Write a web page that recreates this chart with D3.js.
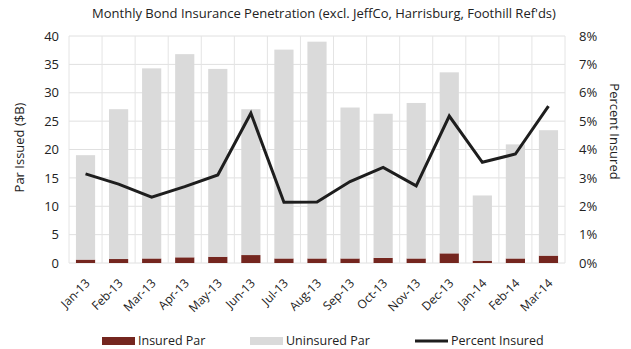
<!DOCTYPE html>
<html>
<head>
<meta charset="utf-8">
<script src="https://cdnjs.cloudflare.com/ajax/libs/d3/7.8.5/d3.min.js"></script>
<style>
  body { margin: 0; background: #fff; }
  text { font-family: "Open Sans", "Liberation Sans", sans-serif; fill: #222; }
</style>
</head>
<body>
<div id="chart"></div>
<script>
// data
const months = ['Jan-13', 'Feb-13', 'Mar-13', 'Apr-13', 'May-13', 'Jun-13', 'Jul-13', 'Aug-13',
                'Sep-13', 'Oct-13', 'Nov-13', 'Dec-13', 'Jan-14', 'Feb-14', 'Mar-14'];
const insuredPar = [0.6, 0.7, 0.8, 1.0, 1.1, 1.4, 0.8, 0.8, 0.8, 0.9, 0.8, 1.7, 0.4, 0.8, 1.3];
const totalPar = [19.0, 27.1, 34.3, 36.8, 34.2, 27.1, 37.6, 39.0, 27.4, 26.3, 28.2, 33.6, 11.9, 20.9, 23.4];
const uninsuredPar = totalPar.map((t, i) => +(t - insuredPar[i]).toFixed(2));
const pctInsured = [3.14, 2.78, 2.32, 2.69, 3.10, 5.28, 2.14, 2.15, 2.87, 3.37, 2.72, 5.18, 3.55, 3.84, 5.53];
const leftTicks = [0, 5, 10, 15, 20, 25, 30, 35, 40];
const rightTicks = [0, 1, 2, 3, 4, 5, 6, 7, 8];

const W = 631, H = 349;
const m = { left: 69, right: 66, top: 36, bottom: 86 };
const iw = W - m.left - m.right, ih = H - m.top - m.bottom;

const svg = d3.select('#chart').append('svg')
    .attr('width', W).attr('height', H);

const x = d3.scaleBand().domain(months).range([m.left, m.left + iw]).paddingInner(0.42).paddingOuter(0.21);
const y = d3.scaleLinear().domain([0, 40]).range([m.top + ih, m.top]);
const y2 = d3.scaleLinear().domain([0, 8]).range([m.top + ih, m.top]);

// grid
const grid = svg.append('g');
grid.selectAll('line.h').data(leftTicks).enter().append('line')
    .attr('x1', m.left).attr('x2', m.left + iw)
    .attr('y1', d => y(d)).attr('y2', d => y(d))
    .attr('stroke', '#e0e0e0').attr('stroke-width', 1);
const step = x.step();
grid.selectAll('line.v').data(d3.range(months.length + 1)).enter().append('line')
    .attr('x1', i => m.left + i * step).attr('x2', i => m.left + i * step)
    .attr('y1', m.top).attr('y2', m.top + ih)
    .attr('stroke', '#e4e4e4').attr('stroke-width', 1);

// stacked bars
const rows = months.map((mo, i) => ({ month: mo, insured: insuredPar[i], uninsured: uninsuredPar[i] }));
const stack = d3.stack().keys(['insured', 'uninsured'])(rows);
const colors = { insured: '#74261f', uninsured: '#dadada' };
svg.append('g').selectAll('g').data(stack).enter().append('g')
    .attr('fill', d => colors[d.key])
    .selectAll('rect').data(d => d).enter().append('rect')
    .attr('x', d => x(d.data.month))
    .attr('width', x.bandwidth())
    .attr('y', d => y(d[1]))
    .attr('height', d => y(d[0]) - y(d[1]));

// percent line
const line = d3.line()
    .x((d, i) => x(months[i]) + x.bandwidth() / 2)
    .y(d => y2(d));
svg.append('path').datum(pctInsured)
    .attr('d', line)
    .attr('fill', 'none')
    .attr('stroke', '#1e1e1e')
    .attr('stroke-width', 3)
    .attr('stroke-linejoin', 'miter');

// axes
const axL = svg.append('g').attr('transform', `translate(${m.left},0)`)
    .call(d3.axisLeft(y).tickValues(leftTicks).tickSize(0).tickPadding(10));
axL.select('.domain').remove();
axL.selectAll('text').style('font-size', '13px').style('fill', '#222');

const axR = svg.append('g').attr('transform', `translate(${m.left + iw},0)`)
    .call(d3.axisRight(y2).tickValues(rightTicks).tickFormat(d => d + '%').tickSize(0).tickPadding(14));
axR.select('.domain').remove();
axR.selectAll('text').style('font-size', '13px').style('fill', '#222');

// x labels
svg.append('g').selectAll('text').data(months).enter().append('text')
    .attr('transform', d => `translate(${x(d) + x.bandwidth() / 2 + 5},${m.top + ih + 21}) rotate(-45)`)
    .attr('text-anchor', 'end')
    .style('font-size', '12px')
    .text(d => d);

// titles
svg.append('text')
    .attr('x', 324).attr('y', 18)
    .attr('text-anchor', 'middle')
    .style('font-size', '13px')
    .text("Monthly Bond Insurance Penetration (excl. JeffCo, Harrisburg, Foothill Ref'ds)");

svg.append('text')
    .attr('transform', `translate(24,${m.top + ih / 2 - 2}) rotate(-90)`)
    .attr('text-anchor', 'middle')
    .style('font-size', '13px')
    .text('Par Issued ($B)');

svg.append('text')
    .attr('transform', `translate(610,${m.top + ih / 2 - 18}) rotate(90)`)
    .attr('text-anchor', 'middle')
    .style('font-size', '13px')
    .text('Percent Insured');

// legend
const legend = svg.append('g');
const items = [
    { label: 'Insured Par', type: 'rect', color: colors.insured, x: 102 },
    { label: 'Uninsured Par', type: 'rect', color: colors.uninsured, x: 250 },
    { label: 'Percent Insured', type: 'line', color: '#1e1e1e', x: 415 }
];
items.forEach(it => {
    if (it.type === 'rect') {
        legend.append('rect').attr('x', it.x).attr('y', 337).attr('width', 33).attr('height', 8).attr('fill', it.color);
    } else {
        legend.append('line').attr('x1', it.x).attr('x2', it.x + 33).attr('y1', 341).attr('y2', 341)
            .attr('stroke', it.color).attr('stroke-width', 3);
    }
    legend.append('text').attr('x', it.x + 36).attr('y', 345).style('font-size', '12.5px').text(it.label);
});
</script>
</body>
</html>
